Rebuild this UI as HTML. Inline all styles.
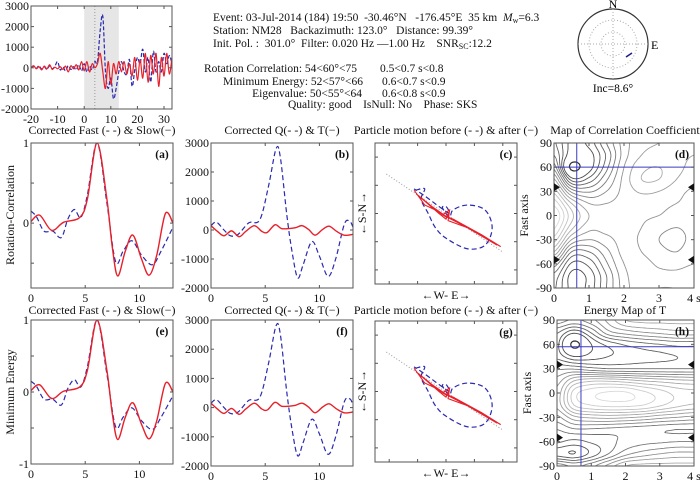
<!DOCTYPE html>
<html><head><meta charset="utf-8"><style>
html,body{margin:0;padding:0;background:#fff;}
svg{display:block;font-family:"Liberation Serif",serif;}
#hdr text{white-space:pre;}
</style></head><body>
<svg id="fig" width="700" height="480" viewBox="0 0 700 480" xmlns="http://www.w3.org/2000/svg">
<rect width="700" height="480" fill="#fff"/>
<g id="hdr" font-size="11.5" fill="#111" xml:space="preserve">
<text x="213" y="21">Event: 03-Jul-2014 (184) 19:50  -30.46°N   -176.45°E  35 km  <tspan font-style="italic">M</tspan><tspan font-size="8" dy="2">w</tspan><tspan dy="-2">=6.3</tspan></text>
<text x="213" y="34">Station: NM28   Backazimuth: 123.0°   Distance: 99.39°</text>
<text x="213" y="47">Init. Pol. :  301.0°  Filter: 0.020 Hz —1.00 Hz    SNR<tspan font-size="8" dy="2">SC</tspan><tspan dy="-2">:12.2</tspan></text>
<text x="357" y="72" text-anchor="end">Rotation Correlation: 54&lt;60°&lt;75</text>
<text x="380" y="72">0.5&lt;0.7 s&lt;0.8</text>
<text x="363" y="85" text-anchor="end">Minimum Energy: 52&lt;57°&lt;66</text>
<text x="382" y="85">0.6&lt;0.7 s&lt;0.9</text>
<text x="362" y="97" text-anchor="end">Eigenvalue: 50&lt;55°&lt;64</text>
<text x="382" y="97">0.6&lt;0.8 s&lt;0.9</text>
<text x="288" y="108">Quality: good    IsNull: No    Phase: SKS</text>
</g>
<g id="stereo">
<circle cx="613" cy="44" r="35" fill="none" stroke="#333" stroke-width="1.2"/>
<circle cx="613" cy="44" r="24" fill="none" stroke="#aaa" stroke-dasharray="1,2"/>
<circle cx="613" cy="44" r="12" fill="none" stroke="#aaa" stroke-dasharray="1,2"/>
<line x1="613" y1="9" x2="613" y2="79" stroke="#aaa" stroke-dasharray="1,2"/>
<line x1="578" y1="44" x2="648" y2="44" stroke="#aaa" stroke-dasharray="1,2"/>
<line x1="626" y1="57" x2="632" y2="53" stroke="#1a1a8a" stroke-width="1.5"/>
<text x="613" y="8" font-size="12" text-anchor="middle">N</text>
<text x="651" y="49" font-size="12">E</text>
<text x="613" y="92" font-size="11.5" text-anchor="middle">Inc=8.6°</text>
</g>
<g id="plots"></g>
</svg>
<script>
// ---------- data ----------
const topTime=[-20,-19,-18,-17,-16,-15,-14,-13,-12,-11,-10,-9,-8,-7,-6,-5,-4,-3,-2,-1,0,1,2,3,4,5,6,7,8,9,10,11,12,13,14,15,16,17,18,19,20,21,22,23,24,25,26,27,28,29,30,31,32,33];
const topSlow=[0,100,-50,50,-100,80,-50,150,-80,30,-50,50,-80,80,-200,100,-50,150,-100,300,-150,300,-200,200,0,200,700,-200,-1000,300,-800,200,-300,300,-200,300,-300,200,-400,500,-600,400,-500,700,-700,600,-300,700,-900,500,-400,700,-300,500];
const topFast=[0,80,-30,100,-60,50,-80,100,-50,80,300,-100,50,-150,100,-80,50,-100,150,-150,200,-200,100,-100,300,300,1800,2500,-200,-1000,-500,-1500,-1000,-200,300,-200,-300,400,-900,-100,500,200,900,-200,500,-700,800,-200,300,-200,700,200,600,200];

const aTimeFast=[0,0.5,1.2,2,2.8,3.4,4,4.6,5.2,6.1,7,7.8,8.5,9.3,10.2,11.2,12,13.1];
const aFast=[0.15,0.08,-0.1,-0.1,-0.18,0.05,0.17,0.07,0.35,1.0,0.25,-0.48,-0.35,-0.22,-0.4,-0.52,-0.35,-0.05];
const aTimeSlow=[0,0.8,1.9,3,4.5,5.2,6.1,7,7.5,8,8.7,9.4,10.2,10.9,11.6,12.4,13.1];
const aSlow=[0.02,0.1,-0.09,0.01,0.07,0.3,1.0,0.3,-0.3,-0.66,-0.35,-0.15,-0.45,-0.65,-0.4,0.12,0.0];

const bTimeQ=[0,0.5,1.2,1.8,2.5,3.5,4.5,5.3,6,6.4,7,7.5,8,8.5,9.3,10,10.8,11.5,12.3,12.8,13.1];
const bQ=[150,270,0,-200,-150,250,350,1500,2800,2500,500,-800,-1650,-1200,-400,-900,-1600,-1000,200,300,100];
const bTimeT=[0,0.6,1.2,1.9,2.6,3.2,4,4.7,5.2,5.9,6.5,7.2,7.8,8.4,9,9.6,10.3,10.9,11.6,12.3,13.1];
const bT=[150,-50,-200,-30,-230,-50,150,-50,-80,180,50,50,80,150,20,-180,20,130,-50,-180,-150];

const pmBeforeE=[-0.43,-0.3,-0.35,-0.25,-0.15,0,0.3,0.55,0.65,0.55,0.3,0.1,0.05,-0.05,0,0.05,-0.1,-0.3,-0.45];
const pmBeforeN=[0.33,0.35,0.2,0,-0.2,-0.35,-0.5,-0.45,-0.2,0.05,0.12,0.05,-0.05,0.08,0.1,0,0.1,0.25,0.35];
const pmAfterE=[-0.45,-0.3,-0.15,0,0.05,0,-0.1,-0.35,-0.42,-0.2,0.03,0.4,0.77,0.5,0.1,-0.05,0.05,0.03,0.3,0.72];
const pmAfterN=[0.33,0.12,0.05,-0.05,0.03,-0.08,0,0.22,0.28,0.1,-0.06,-0.25,-0.47,-0.3,-0.08,-0.02,0.05,-0.1,-0.2,-0.45];

const mapLags=[0,0.5,1,1.5,2,2.5,3,3.5,4];
const mapPhis=[90,75,60,45,30,15,0,-15,-30,-45,-60,-75,-90];
const corrGrid=[
[0.35,0.2,0.24,0.4,0.55,0.62,0.64,0.64,0.64],
[0.4,0.17,0.19,0.35,0.55,0.64,0.66,0.65,0.64],
[0.5,0.03,0.18,0.38,0.58,0.68,0.7,0.66,0.62],
[0.65,0.25,0.3,0.45,0.6,0.7,0.7,0.64,0.6],
[0.8,0.5,0.45,0.52,0.6,0.65,0.64,0.6,0.57],
[0.92,0.7,0.58,0.58,0.6,0.6,0.6,0.58,0.56],
[1.0,0.78,0.64,0.6,0.6,0.59,0.58,0.55,0.55],
[0.95,0.72,0.6,0.6,0.6,0.58,0.54,0.52,0.54],
[0.85,0.58,0.52,0.56,0.6,0.57,0.52,0.5,0.54],
[0.7,0.4,0.4,0.5,0.6,0.58,0.54,0.52,0.56],
[0.5,0.27,0.3,0.45,0.58,0.6,0.57,0.56,0.58],
[0.38,0.2,0.24,0.4,0.56,0.61,0.6,0.6,0.62],
[0.35,0.2,0.24,0.4,0.55,0.62,0.64,0.64,0.64]];
const energyGrid=[
[0.5,0.45,0.5,0.6,0.7,0.72,0.72,0.72,0.72],
[0.35,0.24,0.35,0.5,0.55,0.58,0.6,0.62,0.62],
[0.3,0.03,0.22,0.3,0.35,0.38,0.4,0.42,0.42],
[0.32,0.22,0.25,0.28,0.3,0.32,0.33,0.34,0.35],
[0.45,0.45,0.42,0.4,0.4,0.4,0.4,0.4,0.4],
[0.55,0.7,0.75,0.75,0.73,0.7,0.68,0.66,0.65],
[0.6,0.85,0.92,0.95,0.95,0.9,0.85,0.8,0.78],
[0.6,0.82,0.88,0.9,0.9,0.88,0.83,0.78,0.75],
[0.5,0.62,0.65,0.66,0.65,0.63,0.6,0.58,0.56],
[0.4,0.45,0.45,0.44,0.43,0.42,0.41,0.4,0.4],
[0.35,0.32,0.35,0.38,0.42,0.44,0.45,0.46,0.46],
[0.25,0.22,0.3,0.4,0.5,0.55,0.58,0.6,0.6],
[0.5,0.45,0.5,0.6,0.7,0.72,0.72,0.72,0.72]];
const contourLevels=[0.06,0.22,0.28,0.34,0.4,0.46,0.52,0.58,0.64,0.7,0.76,0.82,0.88,0.94];
const corrBest=[0.65,60];
const energyBest=[0.7,57];
const nullMarks=[35,-55];

// ---------- helpers ----------
const NS="http://www.w3.org/2000/svg";
const root=document.getElementById('plots');
function el(tag,attrs,parent){const e=document.createElementNS(NS,tag);for(const k in attrs)e.setAttribute(k,attrs[k]);(parent||root).appendChild(e);return e;}
function txt(x,y,s,size,anchor,parent){const t=el('text',{x:x,y:y,'font-size':size||12,'text-anchor':anchor||'middle',fill:'#111'},parent);t.textContent=s;return t;}
function scale(d0,d1,r0,r1){return v=>r0+(v-d0)*(r1-r0)/(d1-d0);}
function smooth(pts){let d='M'+pts[0][0].toFixed(2)+','+pts[0][1].toFixed(2);
 for(let i=0;i<pts.length-1;i++){const p0=pts[i-1]||pts[i],p1=pts[i],p2=pts[i+1],p3=pts[i+2]||p2;
 d+=' C'+(p1[0]+(p2[0]-p0[0])/6).toFixed(2)+','+(p1[1]+(p2[1]-p0[1])/6).toFixed(2)+' '+(p2[0]-(p3[0]-p1[0])/6).toFixed(2)+','+(p2[1]-(p3[1]-p1[1])/6).toFixed(2)+' '+p2[0].toFixed(2)+','+p2[1].toFixed(2);}
 return d;}
let clipN=0;
function frame(x0,y0,w,h,name){
 const g=el('g',{});
 
 
 const id='c'+(clipN++);const cp=el('clipPath',{id:id},g);el('rect',{x:x0,y:y0,width:w,height:h},cp);
 const inner=el('g',{'clip-path':'url(#'+id+')'},g);
 return {g:g,inner:inner};}
function box(g,x0,y0,w,h){const r=el('rect',{x:x0,y:y0,width:w,height:h,fill:'none',stroke:'#555','stroke-width':1},g);
 
 }
function xticks(g,sx,vals,labels,y0,y1,ly){vals.forEach((v,i)=>{const x=sx(v);
 el('line',{x1:x,y1:y1,x2:x,y2:y1-3,stroke:'#555'},g);el('line',{x1:x,y1:y0,x2:x,y2:y0+3,stroke:'#555'},g);
 if(labels[i]!==''){const t=txt(x,ly,labels[i],12,'middle',g);}});}
function yticks(g,sy,vals,labels,x0,x1,lx){vals.forEach((v,i)=>{const y=sy(v);
 el('line',{x1:x0,y1:y,x2:x0+3,y2:y,stroke:'#555'},g);el('line',{x1:x1,y1:y,x2:x1-3,y2:y,stroke:'#555'},g);
 if(labels[i]!==''){const t=txt(lx,y+4,labels[i],12,'end',g);}});}
function series(parent,xs,ys,sx,sy,color,dash,name,w){
 const p=el('path',{d:smooth(xs.map((x,i)=>[sx(x),sy(ys[i])])),fill:'none',stroke:color,'stroke-width':w||1.3,'stroke-dasharray':dash||'none'},parent);
 
 return p;}
const RED='#e8202a',BLUE='#2a2ab0';

// ---------- top waveform ----------
(function(){const x0=31,y0=6,w=141,h=103;const F=frame(x0,y0,w,h,'raw-waveform-plot');
 const sx=scale(-20,33,x0,x0+w),sy=scale(-2000,3000,y0+h,y0);
 const band=el('rect',{x:sx(0),y:y0,width:sx(13)-sx(0),height:h,fill:'#e6e6e6'},F.inner);
 
 
 el('line',{x1:sx(4),y1:y0,x2:sx(4),y2:y0+h,stroke:'#999','stroke-dasharray':'1,2'},F.inner);
 series(F.inner,topTime,topFast,sx,sy,BLUE,'4,2','raw-fast-trace',1.2);
 series(F.inner,topTime,topSlow,sx,sy,RED,'','raw-slow-trace',1.2);
 box(F.g,x0,y0,w,h);
 xticks(F.g,sx,[-20,-10,0,10,20,30],['-20','-10','0','10','20','30'],y0,y0+h,y0+h+14);
 yticks(F.g,sy,[-2000,-1000,0,1000,2000,3000],['-2000','-1000','0','1000','2000','3000'],x0,x0+w,x0-2);
})();

// ---------- wave panels ----------
function wavePanel(x0,y0,w,h,ymin,ymax,yv,yl,tf,vf,ts,vs,lab,name){
 const F=frame(x0,y0,w,h,name);
 const sx=scale(0,13.1,x0,x0+w),sy=scale(ymin,ymax,y0+h,y0);
 series(F.inner,tf,vf,sx,sy,BLUE,'5,3',name+'-dashed',1.2);
 series(F.inner,ts,vs,sx,sy,RED,'',name+'-solid',1.4);
 box(F.g,x0,y0,w,h);
 xticks(F.g,sx,[0,5,10],['0','5','10'],y0,y0+h,y0+h+14);
 yticks(F.g,sy,yv,yl,x0,x0+w,x0-2);
 const t=txt(x0+w-11,y0+15,lab,11.5,'middle',F.g);t.setAttribute('font-weight','bold');
 
 }
wavePanel(31,143,142,145,-0.81,1,[-0.5,0,0.5,1],['','0','','1'],aTimeFast,aFast,aTimeSlow,aSlow,'(a)','panel-a');
wavePanel(31,320,142,144,-1,1,[-1,-0.5,0,0.5,1],['-1','','0','','1'],aTimeFast,aFast,aTimeSlow,aSlow,'(e)','panel-e');
wavePanel(211,143,142,145,-2000,3000,[-2000,-1000,0,1000,2000,3000],['-2000','-1000','0','1000','2000','3000'],bTimeQ,bQ,bTimeT,bT,'(b)','panel-b');
wavePanel(211,320,142,146,-2000,3000,[-2000,-1000,0,1000,2000,3000],['-2000','-1000','0','1000','2000','3000'],bTimeQ,bQ,bTimeT,bT,'(f)','panel-f');

// ---------- particle motion ----------
function pmPanel(x0,y0,w,h,lab,name){
 const F=frame(x0,y0,w,h,name);
 const sx=scale(-1,1,x0,x0+w),sy=scale(-1,1,y0+h,y0);
 el('line',{x1:sx(-0.84),y1:sy(0.56),x2:sx(0.79),y2:sy(-0.54),stroke:'#999','stroke-dasharray':'1,2'},F.inner);
 series(F.inner,pmBeforeE,pmBeforeN,sx,sy,BLUE,'5,3',name+'-before',1.2);
 const pts=pmAfterE.map((e,i)=>sx(e).toFixed(1)+','+sy(pmAfterN[i]).toFixed(1)).join(' ');
 const pl=el('polyline',{points:pts,fill:'none',stroke:RED,'stroke-width':1.1},F.inner);
 
 
 box(F.g,x0,y0,w,h);
 const tv=[-0.8,-0.4,0,0.4,0.8];
 xticks(F.g,sx,tv,['','','','',''],y0,y0+h,0);
 yticks(F.g,sy,tv,['','','','',''],x0,x0+w,0);
 const t=txt(x0+w-11,y0+15,lab,11.5,'middle',F.g);t.setAttribute('font-weight','bold');
 
 
 const xl=txt(x0+w/2,y0+h+15,'←W- E→',12,'middle',F.g);
 
 
 const yl=txt(0,0,'←S-N→',12,'middle',F.g);yl.setAttribute('transform','translate('+(x0-9)+','+(y0+h/2)+') rotate(-90)');
 
 }
pmPanel(375,143,142,141,'(c)','panel-c');
pmPanel(375,321,142,141,'(g)','panel-g');

// ---------- contour maps ----------
function cr(p0,p1,p2,p3,t){return 0.5*(2*p1+(-p0+p2)*t+(2*p0-5*p1+4*p2-p3)*t*t+(-p0+3*p1-3*p2+p3)*t*t*t);}
function sampler(grid){const R=grid.length,C=grid[0].length;
 const g=(r,c)=>grid[Math.max(0,Math.min(R-1,r))][Math.max(0,Math.min(C-1,c))];
 return (fr,fc)=>{const r=Math.floor(fr),c=Math.floor(fc),tr=fr-r,tc=fc-c;const rows=[];
  for(let k=-1;k<=2;k++)rows.push(cr(g(r+k,c-1),g(r+k,c),g(r+k,c+1),g(r+k,c+2),tc));
  return cr(rows[0],rows[1],rows[2],rows[3],tr);};}
function mapPanel(x0,y0,w,h,grid,best,lab,name){
 const F=frame(x0,y0,w,h,name);
 const sx=scale(0,4,x0,x0+w),sy=scale(-90,90,y0+h,y0);
 const f=sampler(grid);const NR=96,NC=64;const R=grid.length-1,C=grid[0].length-1;
 const vals=[];for(let i=0;i<=NR;i++){vals.push([]);for(let j=0;j<=NC;j++)vals[i].push(f(i*R/NR,j*C/NC));}
 const px=j=>sx(mapLags[0]+(mapLags[C]-mapLags[0])*j/NC),py=i=>sy(mapPhis[0]+(mapPhis[R]-mapPhis[0])*i/NR);
 contourLevels.forEach(L=>{let d='';
  for(let i=0;i<NR;i++)for(let j=0;j<NC;j++){
   const a=vals[i][j],b=vals[i][j+1],c=vals[i+1][j+1],e=vals[i+1][j];const P=[];
   const cut=(v1,v2,x1,y1,x2,y2)=>{if((v1<L)!==(v2<L)){const t=(L-v1)/(v2-v1);P.push([x1+(x2-x1)*t,y1+(y2-y1)*t]);}};
   cut(a,b,px(j),py(i),px(j+1),py(i));cut(b,c,px(j+1),py(i),px(j+1),py(i+1));
   cut(c,e,px(j+1),py(i+1),px(j),py(i+1));cut(e,a,px(j),py(i+1),px(j),py(i));
   for(let k=0;k+1<P.length;k+=2)d+='M'+P[k][0].toFixed(1)+','+P[k][1].toFixed(1)+'L'+P[k+1][0].toFixed(1)+','+P[k+1][1].toFixed(1);}
  const gv=Math.round(30+L*200);
  const p=el('path',{d:d,fill:'none',stroke:'rgb('+gv+','+gv+','+gv+')','stroke-width':L<0.1?1.2:0.9},F.inner);
  
  });
 const v=el('line',{x1:sx(best[0]),y1:y0,x2:sx(best[0]),y2:y0+h,stroke:'#3a3ac0','stroke-width':1},F.inner);
 
 
 const hl=el('line',{x1:x0,y1:sy(best[1]),x2:x0+w,y2:sy(best[1]),stroke:'#3a3ac0','stroke-width':1},F.inner);
 
 
 box(F.g,x0,y0,w,h);
 xticks(F.g,sx,[0,1,2,3,4],['0','1','2','3','4 s'],y0,y0+h,y0+h+14);
 yticks(F.g,sy,[-90,-60,-30,0,30,60,90],['-90','-60','-30','0','30','60','90'],x0,x0+w,x0-2);
 nullMarks.forEach(m=>{const y=sy(m);
  const t1=el('path',{d:'M'+x0+','+(y-4)+'L'+(x0+6)+','+y+'L'+x0+','+(y+4)+'Z',fill:'#111'},F.g);
  
  
  const t2=el('path',{d:'M'+(x0+w)+','+(y-4)+'L'+(x0+w-6)+','+y+'L'+(x0+w)+','+(y+4)+'Z',fill:'#111'},F.g);
  
  });
 const t=txt(x0+w-12,y0+15,lab,11.5,'middle',F.g);t.setAttribute('font-weight','bold');
 
 
 const yl=txt(0,0,'Fast axis',12,'middle',F.g);yl.setAttribute('transform','translate('+(x0-26)+','+(y0+h/2)+') rotate(-90)');
 
 }
mapPanel(554,143,140,145,corrGrid,corrBest,'(d)','map-correlation');
mapPanel(557,320,137,146,energyGrid,energyBest,'(h)','map-energy');

// ---------- titles ----------
[['Corrected Fast (- -) & Slow(−)',102,134],['Corrected Q(- -) & T(−)',282,134],['Particle motion before (- -) & after (−)',446,134],['Map of Correlation Coefficient',625,134],
 ['Corrected Fast (- -) & Slow(−)',102,314],['Corrected Q(- -) & T(−)',282,314],['Particle motion before (- -) & after (−)',446,314],['Energy Map of T',625,314]].forEach(a=>{
 const t=txt(a[1],a[2],a[0],12,'middle');
 
 });
const y1=txt(0,0,'Rotation-Correlation',12,'middle');y1.setAttribute('transform','translate(14,215) rotate(-90)');


const y2=txt(0,0,'Minimum Energy',12,'middle');y2.setAttribute('transform','translate(14,392) rotate(-90)');


</script>
</body></html>
